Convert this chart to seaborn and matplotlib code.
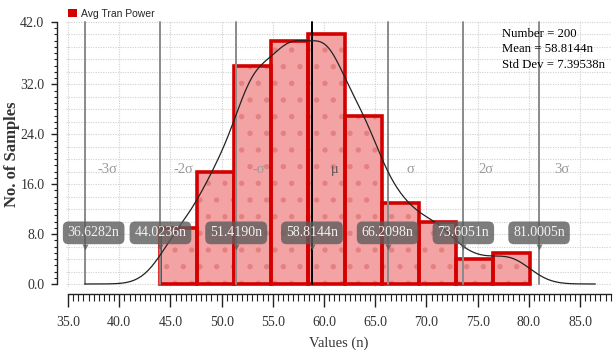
import matplotlib
matplotlib.use("Agg")
import matplotlib.pyplot as plt
from matplotlib.patches import Patch
from matplotlib.ticker import MultipleLocator, FormatStrFormatter
import seaborn as sns
import numpy as np
import pandas as pd

# histogram data
data_min = 44.0
data_max = 80.1
counts = [9, 18, 35, 39, 40, 27, 13, 10, 4, 5]
n_samples = 200
mean_val = "58.8144"
std_val = "7.39538"
sigma_names = ["-3σ", "-2σ", "-σ", "μ", "σ", "2σ", "3σ"]
sigma_vals = ["36.6282", "44.0236", "51.4190", "58.8144", "66.2098", "73.6051", "81.0005"]
series_name = "Avg Tran Power"

edges = np.linspace(data_min, data_max, len(counts) + 1)
centers = (edges[:-1] + edges[1:]) / 2
bin_w = edges[1] - edges[0]
df = pd.DataFrame({"value": centers, "count": counts})

SERIF = "Liberation Serif"
RED = "#d40000"
FILL = "#f3a3a3"
DOT = "#e48080"

sns.set_theme(style="white")
plt.rcParams["font.family"] = [SERIF, "DejaVu Serif"]
plt.rcParams["hatch.linewidth"] = 1.4

fig = plt.figure(figsize=(6.13, 3.56), dpi=100)
ax = fig.add_axes([0.1077, 0.1935, 0.8886, 0.7482])

x_lo, x_hi = 34.8, 88.0
y_lo, y_hi = -0.5, 42.2

# grid
for gy in np.arange(0, 43, 2):
    ax.axhline(gy, color="#d0d0d0", lw=0.8, ls=(0, (1, 1.2)), zorder=0)
for gx in np.arange(35, 88, 5):
    ax.axvline(gx, color="#d0d0d0", lw=0.8, ls=(0, (1, 1.2)), zorder=0)

# bars: dotted fill, then thick outline
bin_list = [float(e) for e in edges]
sns.histplot(data=df, x="value", weights="count", bins=bin_list, ax=ax,
             color=FILL, alpha=1, edgecolor=DOT, linewidth=0, hatch=".",
             zorder=2)
sns.histplot(data=df, x="value", weights="count", bins=bin_list, ax=ax,
             fill=False, element="bars", color=RED, linewidth=2.6, zorder=3)

# sigma lines
sig_x = [float(v) for v in sigma_vals]
for sx, nm in zip(sig_x, sigma_names):
    is_mu = nm == "μ"
    ax.plot([sx, sx], [0, 42], color="black" if is_mu else "#8a8a8a",
            lw=1.4, zorder=4)
    ax.text(sx + 2.2, 18.3, nm, color="#555555" if is_mu else "#9a9a9a",
            fontsize=10.5, ha="center", va="center", zorder=5)

# smooth curve from weighted gaussian kernel over the histogram
bw = 2.0
grid = np.linspace(sig_x[0], data_max + 3.2 * bw, 300)
w = np.array(counts, dtype=float)
dens = (w[None, :] * np.exp(-0.5 * ((grid[:, None] - centers[None, :]) / bw) ** 2)).sum(axis=1)
dens = dens / (w.sum() * bw * np.sqrt(2 * np.pi))
curve = dens * n_samples * bin_w
sns.lineplot(x=grid, y=curve, ax=ax, color="#222222", lw=0.9, zorder=6)

# value boxes on sigma lines
for sx, sv in zip(sig_x, sigma_vals):
    tx = max(sx, x_lo + 2.7)
    ax.text(tx, 8.2, f"{sv}n", color="#f2f2f2", fontsize=10,
            ha="center", va="center", zorder=8,
            bbox=dict(boxstyle="round,pad=0.35,rounding_size=0.4",
                      fc="#5c5c5c", ec="none", alpha=0.8))
    ax.plot(sx, 6.0, marker="v", ms=5, color="#5c5c5c", alpha=0.8,
            mec="none", zorder=8)

# stats text
ax.text(0.80, 0.972, f"Number = {n_samples}\nMean = {mean_val}n\nStd Dev = {std_val}n",
        transform=ax.transAxes, ha="left", va="top", fontsize=9.2,
        linespacing=1.35, color="black", zorder=9)

ax.set_xlim(x_lo, x_hi)
ax.set_ylim(y_lo, y_hi)
ax.set_yticks([0, 8, 16, 24, 32, 42])
ax.yaxis.set_minor_locator(MultipleLocator(1))
ax.xaxis.set_major_locator(MultipleLocator(5))
ax.xaxis.set_minor_locator(MultipleLocator(0.5))
ax.xaxis.set_major_formatter(FormatStrFormatter("%.1f"))
ax.yaxis.set_major_formatter(FormatStrFormatter("%.1f"))
ax.set_xlim(x_lo, x_hi)

for s in ["top", "right"]:
    ax.spines[s].set_visible(False)
ax.spines["left"].set_position(("outward", 6.5))
ax.spines["bottom"].set_position(("outward", 5))
ax.spines["left"].set_bounds(0, 42)
ax.spines["bottom"].set_bounds(35, 88)
for s in ["left", "bottom"]:
    ax.spines[s].set_color("#222222")
    ax.spines[s].set_linewidth(1.0)

ax.tick_params(axis="x", which="major", direction="out", length=9, width=1,
               color="#222222", labelsize=10, labelcolor="#333333", pad=7,
               bottom=True)
ax.tick_params(axis="x", which="minor", direction="out", length=5, width=0.8,
               color="#222222", bottom=True)
ax.tick_params(axis="y", which="major", direction="out", length=4, width=1,
               color="#222222", labelsize=10, labelcolor="#333333", pad=5,
               left=True)
ax.tick_params(axis="y", which="minor", direction="out", length=2.5, width=0.8,
               color="#222222", left=True)

ax.set_xlabel("Values (n)", fontsize=10.5, color="#333333", labelpad=5)
ax.set_ylabel("No. of Samples", fontsize=12, fontweight="bold",
              color="#333333", labelpad=0)

leg = ax.legend(handles=[Patch(facecolor="#d40000", edgecolor="none", label=series_name)],
                loc="lower left", bbox_to_anchor=(0.0, 1.0), frameon=False,
                handlelength=0.9, handleheight=0.9, handletextpad=0.3,
                borderpad=0.1, borderaxespad=0.1,
                prop={"family": "Liberation Sans", "size": 7.5})

fig.savefig("out.png", dpi=100)
